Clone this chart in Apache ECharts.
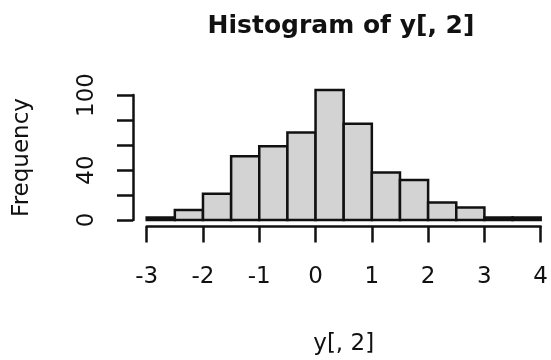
<!DOCTYPE html>
<html>
<head>
<meta charset="utf-8">
<script src="https://cdn.jsdelivr.net/npm/echarts@6/dist/echarts.min.js"></script>
<style>
  html, body { margin: 0; padding: 0; background: #fff; }
  #chart { width: 551px; height: 360px; }
</style>
</head>
<body>
<div id="chart"></div>
<script>
// Histogram bins: left edge, right edge, count
const binStarts = [-3, -2.5, -2, -1.5, -1, -0.5, 0, 0.5, 1, 1.5, 2, 2.5, 3, 3.5];
const binEnds   = [-2.5, -2, -1.5, -1, -0.5, 0, 0.5, 1, 1.5, 2, 2.5, 3, 3.5, 4];
const counts    = [2, 8, 21, 51, 59, 70, 104, 77, 38, 32, 14, 10, 2, 2];

// Axis ticks
const xTicks = [-3, -2, -1, 0, 1, 2, 3, 4];
const yTicks = [0, 20, 40, 60, 80, 100];
const yLabelsShown = [0, 40, 100];

const titleText = 'Histogram of y[, 2]';
const xName = 'y[, 2]';
const yName = 'Frequency';

const FONT = '"DejaVu Sans", "Liberation Sans", sans-serif';
const INK = '#111';

const binData = binStarts.map((s, i) => [s, binEnds[i], counts[i]]);

const chart = echarts.init(document.getElementById('chart'), null, { renderer: 'canvas' });

chart.setOption({
  backgroundColor: '#fff',
  animation: false,
  title: {
    text: titleText,
    left: 336,
    top: 9,
    textAlign: 'center',
    textStyle: { fontFamily: FONT, fontSize: 25, fontWeight: 'bold', color: INK }
  },
  grid: { left: 146.7, right: 9.3, top: 95, bottom: 140, containLabel: false },
  xAxis: {
    type: 'value',
    min: xTicks[0],
    max: xTicks[xTicks.length - 1],
    interval: 1,
    offset: 6.5,
    name: xName,
    nameLocation: 'middle',
    nameGap: 106,
    nameTextStyle: { fontFamily: FONT, fontSize: 23, color: INK },
    axisLine: { show: true, onZero: false, lineStyle: { color: INK, width: 2.5 } },
    axisTick: { show: true, length: 16, lineStyle: { color: INK, width: 2.5 } },
    axisLabel: {
      margin: 39,
      fontFamily: FONT, fontSize: 23, color: INK,
      formatter: v => String(v)
    },
    splitLine: { show: false }
  },
  yAxis: {
    type: 'value',
    min: yTicks[0],
    max: yTicks[yTicks.length - 1],
    interval: 20,
    offset: 13.7,
    name: yName,
    nameLocation: 'middle',
    nameRotate: 90,
    nameGap: 99,
    nameTextStyle: { fontFamily: FONT, fontSize: 23, color: INK },
    axisLine: { show: true, onZero: false, lineStyle: { color: INK, width: 2.5 } },
    axisTick: { show: true, length: 16, lineStyle: { color: INK, width: 2.5 } },
    axisLabel: {
      rotate: 90,
      margin: 34,
      fontFamily: FONT, fontSize: 23, color: INK,
      formatter: v => (yLabelsShown.indexOf(v) >= 0 ? String(v) : '')
    },
    splitLine: { show: false }
  },
  series: [{
    type: 'custom',
    clip: false,
    data: binData,
    encode: { x: [0, 1], y: 2 },
    renderItem: function (params, api) {
      const p0 = api.coord([api.value(0), 0]);
      const p1 = api.coord([api.value(1), api.value(2)]);
      return {
        type: 'rect',
        shape: { x: p0[0], y: p1[1], width: p1[0] - p0[0], height: p0[1] - p1[1] },
        style: { fill: '#d3d3d3', stroke: '#111', lineWidth: 2.5 }
      };
    }
  }]
});
</script>
</body>
</html>
